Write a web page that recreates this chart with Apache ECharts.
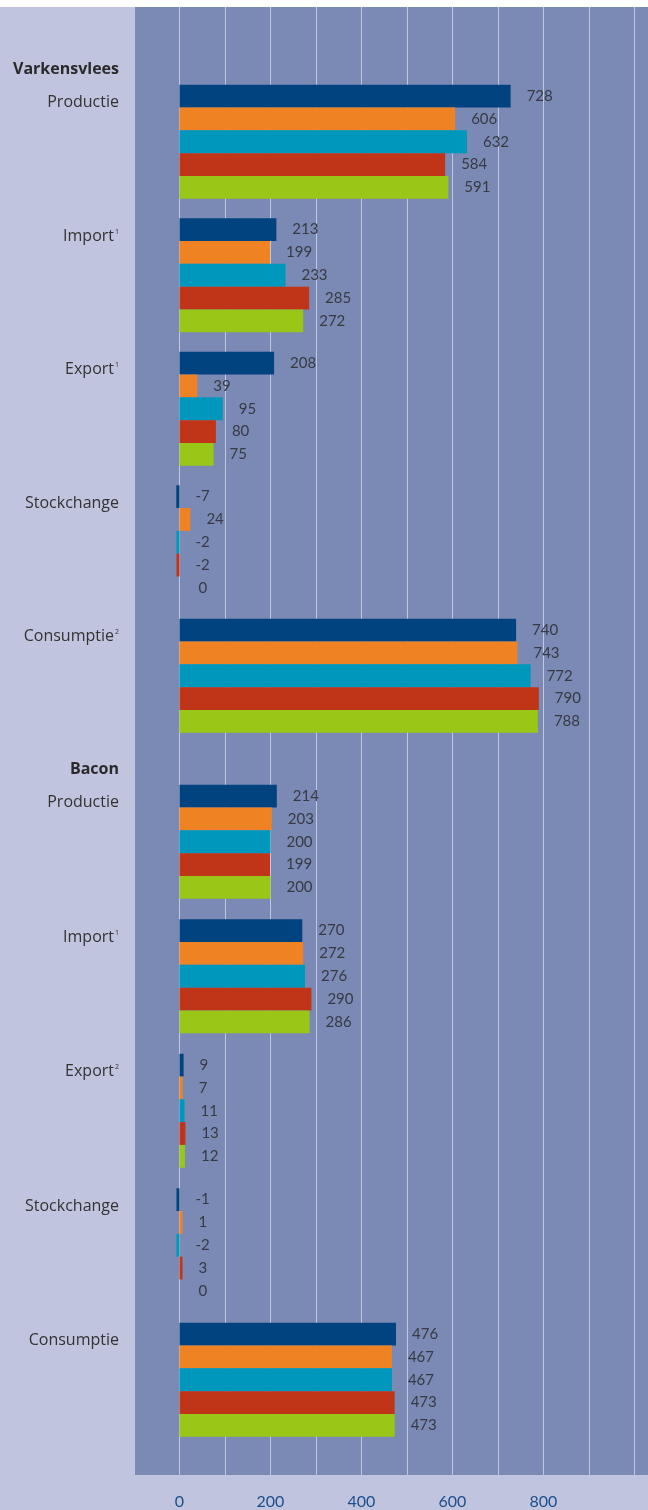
<!DOCTYPE html>
<html>
<head>
<meta charset="utf-8">
<script src="https://cdn.jsdelivr.net/npm/echarts@6/dist/echarts.min.js"></script>
<style>
  html, body { margin: 0; padding: 0; background: #ffffff; }
  #chart { width: 648px; height: 1510px; }
</style>
</head>
<body>
<div id="chart"></div>
<script>
// Categories per section (trailing ¹/² are footnote markers)
const porkCategories = ['Productie', 'Import¹', 'Export¹', 'Stockchange', 'Consumptie²'];
const baconCategories = ['Productie', 'Import¹', 'Export²', 'Stockchange', 'Consumptie'];

// One row per year series, values in the category order above
const porkValues = [
  [728, 213, 208, -7, 740],
  [606, 199, 39, 24, 743],
  [632, 233, 95, -2, 772],
  [584, 285, 80, -2, 790],
  [591, 272, 75, 0, 788]
];
const baconValues = [
  [214, 270, 9, -1, 476],
  [203, 272, 7, 1, 467],
  [200, 276, 11, -2, 467],
  [199, 290, 13, 3, 473],
  [200, 286, 12, 0, 473]
];

const seriesColors = ['#01437f', '#ef8222', '#0097bd', '#c03418', '#9ac617'];
const xTickLabels = [0, 200, 400, 600, 800];

const X_MIN = -100, X_MAX = 1030;
const PLOT_LEFT = 134, PLOT_WIDTH = 514;
const FONT = 'Lato, "Open Sans", sans-serif';
const CAT_FONT = '"Open Sans", "Noto Sans", sans-serif';
const TEXT_COLOR = '#333333';

const chart = echarts.init(document.getElementById('chart'), null, { renderer: 'canvas' });

function catLabel(v) {
  const last = v.slice(-1);
  if (last === '¹' || last === '²') {
    return '{n|' + v.slice(0, -1) + '}{s|' + (last === '¹' ? '1' : '2') + '}';
  }
  return '{n|' + v + '}';
}

function makeValueAxis(gridIndex, showLabels) {
  return {
    type: 'value',
    gridIndex: gridIndex,
    min: X_MIN,
    max: X_MAX,
    interval: 100,
    axisLine: { show: false },
    axisTick: { show: false },
    splitLine: showLabels ? { show: true, lineStyle: { color: '#c3c8e2', width: 1 } } : { show: false },
    axisLabel: showLabels ? {
      show: true,
      margin: 19,
      color: '#1c4f8a',
      fontSize: 16,
      fontFamily: FONT,
      showMaxLabel: false,
      formatter: function (v) { return xTickLabels.indexOf(v) >= 0 ? String(v) : ''; }
    } : { show: false }
  };
}

function makeCatAxis(gridIndex, cats) {
  return {
    type: 'category',
    gridIndex: gridIndex,
    inverse: true,
    data: cats,
    axisLine: { show: false },
    axisTick: { show: false },
    axisLabel: {
      margin: 15,
      padding: [0, 0, 78, 0],
      formatter: catLabel,
      rich: {
        n: { fontFamily: CAT_FONT, fontSize: 16, color: TEXT_COLOR },
        s: { fontFamily: CAT_FONT, fontSize: 7, color: TEXT_COLOR, verticalAlign: 'top', padding: [0, 0, 9, 1] }
      }
    }
  };
}

function makeSeries(values, axisIndex) {
  return values.map(function (row, i) {
    return {
      type: 'bar',
      xAxisIndex: axisIndex,
      yAxisIndex: axisIndex,
      // a zero value gets no visible bar, only its label
      data: row.map(function (v) {
        return v === 0 ? { value: v, itemStyle: { color: 'rgba(0,0,0,0)' } } : v;
      }),
      barWidth: 22.8,
      barGap: '0%',
      barMinHeight: 3,
      itemStyle: { color: seriesColors[i] },
      label: {
        show: true,
        position: 'right',
        distance: 16,
        color: '#373a42',
        fontSize: 15,
        fontFamily: FONT
      },
      emphasis: { disabled: true }
    };
  });
}

chart.setOption({
  animation: false,
  backgroundColor: '#ffffff',
  graphic: [
    {
      type: 'rect',
      z: -10,
      shape: { x: 0, y: 7, width: 648, height: 1503 },
      style: { fill: '#c0c4de' }
    },
    {
      type: 'text',
      right: 648 - 119,
      top: 61,
      style: { text: 'Varkensvlees', font: 'bold 16px ' + CAT_FONT, fill: '#2a2a2a', textAlign: 'right' }
    },
    {
      type: 'text',
      right: 648 - 119,
      top: 761,
      style: { text: 'Bacon', font: 'bold 16px ' + CAT_FONT, fill: '#2a2a2a', textAlign: 'right' }
    }
  ],
  grid: [
    { left: PLOT_LEFT, top: 7, width: PLOT_WIDTH, height: 1468, show: true, backgroundColor: '#7b89b5', borderWidth: 0 },
    { left: PLOT_LEFT, top: 75, width: PLOT_WIDTH, height: 667.5 },
    { left: PLOT_LEFT, top: 774.5, width: PLOT_WIDTH, height: 672.5 }
  ],
  xAxis: [makeValueAxis(0, true), makeValueAxis(1, false), makeValueAxis(2, false)],
  yAxis: [
    { type: 'value', gridIndex: 0, show: false, splitLine: { show: false } },
    makeCatAxis(1, porkCategories),
    makeCatAxis(2, baconCategories)
  ],
  series: makeSeries(porkValues, 1).concat(makeSeries(baconValues, 2))
});
</script>
</body>
</html>
